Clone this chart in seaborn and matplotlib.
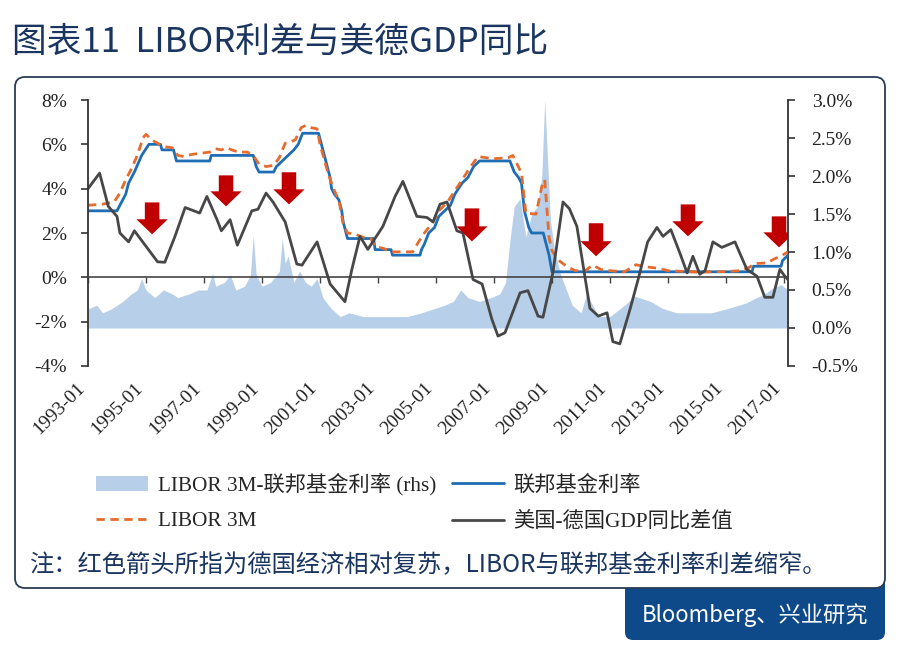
import matplotlib
matplotlib.use("Agg")
import matplotlib.pyplot as plt
import seaborn as sns
from matplotlib.patches import FancyArrow, FancyBboxPatch, Patch
from matplotlib.lines import Line2D
from matplotlib.ticker import FuncFormatter

# 联邦基金利率 (lhs, %)
ff_t = [1993.0, 1994.0, 1994.1, 1994.2, 1994.3, 1994.4, 1994.6, 1994.85, 1995.1, 1995.5, 1995.55,
        1995.95, 1996.05, 1997.2, 1997.25, 1998.7, 1998.8, 1998.9, 1999.4, 1999.5, 1999.7, 1999.9,
        2000.1, 2000.25, 2000.4, 2000.95, 2001.05, 2001.15, 2001.25, 2001.35, 2001.4, 2001.5,
        2001.65, 2001.75, 2001.8, 2001.9, 2001.95, 2002.85, 2002.9, 2003.45, 2003.5, 2004.45,
        2004.5, 2004.6, 2004.75, 2004.95, 2005.1, 2005.3, 2005.5, 2005.65, 2005.9, 2006.1, 2006.3,
        2006.5, 2007.55, 2007.7, 2007.85, 2007.95, 2008.05, 2008.2, 2008.3, 2008.7, 2008.8, 2008.9,
        2009.0, 2015.9, 2015.95, 2016.9, 2016.95, 2017.14]
ff_v = [3.0, 3.0, 3.25, 3.5, 3.75, 4.25, 4.75, 5.5, 6.0, 6.0, 5.75,
        5.75, 5.25, 5.25, 5.5, 5.5, 5.0, 4.75, 4.75, 5.0, 5.25, 5.5,
        5.75, 6.0, 6.5, 6.5, 6.0, 5.5, 5.0, 4.5, 4.0, 3.75,
        3.5, 3.0, 2.5, 2.0, 1.75, 1.75, 1.25, 1.25, 1.0, 1.0,
        1.25, 1.5, 2.0, 2.25, 2.75, 3.0, 3.25, 3.75, 4.25, 4.5, 5.0,
        5.25, 5.25, 4.75, 4.5, 4.25, 3.0, 2.25, 2.0, 2.0, 1.5, 1.0,
        0.25, 0.25, 0.5, 0.5, 0.75, 1.0]

# LIBOR 3M (lhs, %)
lib_t = [1993.0, 1993.5, 1993.9, 1994.1, 1994.3, 1994.5, 1994.7, 1994.9, 1995.0, 1995.2, 1995.4,
         1995.6, 1995.9, 1996.1, 1996.3, 1996.6, 1996.9, 1997.2, 1997.4, 1997.6, 1997.8, 1997.95,
         1998.2, 1998.5, 1998.75, 1998.9, 1999.15, 1999.4, 1999.6, 1999.8, 1999.95, 2000.15,
         2000.35, 2000.5, 2000.7, 2000.9, 2001.0, 2001.15, 2001.3, 2001.5, 2001.65, 2001.8,
         2001.95, 2002.2, 2002.5, 2002.75, 2002.9, 2003.2, 2003.45, 2003.9, 2004.2, 2004.4,
         2004.6, 2004.9, 2005.1, 2005.4, 2005.7, 2005.95, 2006.2, 2006.45, 2006.7, 2007.0,
         2007.5, 2007.65, 2007.8, 2007.95, 2008.1, 2008.45, 2008.65, 2008.75, 2008.9, 2009.0,
         2009.2, 2009.5, 2009.8, 2010.15, 2010.4, 2010.7, 2011.0, 2011.5, 2011.9, 2012.2,
         2012.6, 2013.0, 2014.0, 2015.0, 2015.5, 2015.8, 2016.0, 2016.4, 2016.7, 2016.95, 2017.14]
lib_v = [3.25, 3.3, 3.4, 3.8, 4.4, 4.9, 5.5, 6.3, 6.45, 6.2, 6.05,
         5.9, 5.85, 5.5, 5.45, 5.55, 5.6, 5.65, 5.8, 5.75, 5.85, 5.75,
         5.65, 5.65, 5.4, 5.1, 5.0, 5.05, 5.4, 6.05, 6.1, 6.2,
         6.75, 6.85, 6.75, 6.7, 6.0, 5.3, 4.6, 3.9, 3.5, 2.4,
         2.0, 1.95, 1.8, 1.75, 1.4, 1.3, 1.15, 1.15, 1.15, 1.6,
         2.0, 2.5, 3.0, 3.4, 4.0, 4.5, 5.0, 5.45, 5.4, 5.35,
         5.4, 5.5, 5.1, 4.7, 2.9, 2.85, 4.1, 4.4, 1.8, 1.2,
         0.8, 0.5, 0.3, 0.3, 0.55, 0.35, 0.3, 0.25, 0.57, 0.48,
         0.42, 0.3, 0.24, 0.26, 0.3, 0.45, 0.62, 0.65, 0.85, 1.0, 1.15]

# 美国-德国GDP同比差值 (lhs, %)
gdp_t = [1993.0, 1993.4, 1993.7, 1994.0, 1994.1, 1994.4, 1994.6, 1995.0, 1995.4, 1995.65, 1996.0,
         1996.35, 1996.85, 1997.1, 1997.45, 1997.6, 1997.9, 1998.15, 1998.65, 1998.86, 1999.14,
         1999.38, 1999.8, 2000.2, 2000.38, 2000.9, 2001.35, 2001.86, 2002.1, 2002.38, 2002.65,
         2003.17, 2003.59, 2003.86, 2004.34, 2004.69, 2004.9, 2005.14, 2005.38, 2005.72, 2005.93,
         2006.28, 2006.59, 2006.93, 2007.14, 2007.38, 2007.9, 2008.17, 2008.52, 2008.69, 2009.03,
         2009.38, 2009.6, 2009.86, 2010.31, 2010.6, 2010.9, 2011.1, 2011.34, 2011.69, 2011.97,
         2012.3, 2012.62, 2012.83, 2013.1, 2013.41, 2013.66, 2013.86, 2014.1, 2014.28, 2014.55,
         2014.86, 2015.31, 2015.72, 2016.07, 2016.34, 2016.62, 2016.86, 2017.03, 2017.14]
gdp_v = [4.0, 4.7, 3.2, 2.75, 2.0, 1.6, 2.1, 1.4, 0.7, 0.68, 1.85,
         3.15, 2.9, 3.65, 2.6, 2.1, 2.6, 1.45, 3.0, 3.07, 3.8,
         3.4, 2.5, 0.6, 0.55, 1.6, -0.3, -1.1, 0.36, 1.85, 1.26,
         2.3, 3.65, 4.33, 2.75, 2.7, 2.5, 3.3, 3.4, 2.1, 2.0,
         -0.1, -0.3, -1.9, -2.65, -2.5, -0.7, -0.6, -1.75, -1.8, 0.2,
         3.4, 3.1, 2.3, -1.4, -1.75, -1.6, -2.9, -3.0, -1.45, -0.1,
         1.6, 2.25, 1.85, 2.15, 1.1, 0.2, 0.95, 0.14, 0.3, 1.6,
         1.35, 1.6, 0.36, 0.05, -0.9, -0.9, 0.36, 0.05, -0.1]

# LIBOR 3M-联邦基金利率 (rhs, %)
sp_t = [1993.0, 1993.3, 1993.5, 1993.8, 1994.0, 1994.2, 1994.5, 1994.7, 1994.85, 1995.0, 1995.3,
        1995.6, 1995.9, 1996.1, 1996.5, 1996.8, 1997.1, 1997.3, 1997.4, 1997.7, 1997.9, 1998.1,
        1998.4, 1998.6, 1998.7, 1998.8, 1999.0, 1999.3, 1999.6, 1999.7, 1999.8, 1999.9, 2000.1,
        2000.3, 2000.5, 2000.7, 2000.9, 2001.1, 2001.4, 2001.7, 2002.0, 2002.5, 2003.0, 2003.5,
        2004.0, 2004.5, 2004.9, 2005.3, 2005.6, 2005.85, 2006.1, 2006.5, 2006.9, 2007.2, 2007.4,
        2007.55, 2007.7, 2007.9, 2008.1, 2008.3, 2008.5, 2008.65, 2008.75, 2008.85, 2008.95,
        2009.1, 2009.3, 2009.5, 2009.7, 2010.0, 2010.2, 2010.4, 2010.6, 2011.0, 2011.5, 2011.85,
        2012.0, 2012.4, 2012.8, 2013.3, 2014.0, 2014.5, 2015.0, 2015.7, 2016.0, 2016.3, 2016.6,
        2016.9, 2017.14]
sp_v = [0.25, 0.3, 0.2, 0.25, 0.3, 0.35, 0.45, 0.5, 0.65, 0.5, 0.4,
        0.5, 0.45, 0.4, 0.45, 0.5, 0.5, 0.72, 0.55, 0.6, 0.7, 0.5,
        0.55, 0.7, 1.22, 0.7, 0.55, 0.6, 0.75, 1.18, 0.85, 0.95, 0.6,
        0.75, 0.6, 0.55, 0.65, 0.4, 0.25, 0.15, 0.2, 0.15, 0.15, 0.15,
        0.15, 0.2, 0.25, 0.3, 0.35, 0.5, 0.4, 0.35, 0.4, 0.45, 0.6,
        1.15, 1.6, 1.7, 1.2, 1.5, 1.6, 2.0, 3.0, 2.2, 1.4,
        1.0, 0.7, 0.5, 0.3, 0.2, 0.45, 0.3, 0.15, 0.15, 0.3, 0.42,
        0.4, 0.35, 0.26, 0.2, 0.2, 0.2, 0.25, 0.33, 0.39, 0.44, 0.52,
        0.57, 0.5]

# 红色箭头: x, 顶部, 箭尖 (lhs %)
arrow_x = [1995.21, 1997.76, 1999.93, 2006.24, 2010.52, 2013.69, 2016.83]
arrow_top = [3.38, 4.6, 4.74, 3.11, 2.44, 3.29, 2.75]
arrow_tip = [1.94, 3.2, 3.29, 1.62, 0.95, 1.85, 1.35]

year_ticks = list(range(1993, 2018, 2))
year_labels = [f"{y}-01" for y in year_ticks]

sns.set_theme(style="white")
plt.rcParams["font.family"] = ["Liberation Serif", "Noto Sans CJK SC"]
plt.rcParams["axes.unicode_minus"] = False

navy = "#1A3560"
fig = plt.figure(figsize=(9, 6.6), dpi=100)

# 外框与来源标签 (英寸坐标)
tab = FancyBboxPatch((6.25, 0.2), 2.6, 0.75, boxstyle="round,pad=0,rounding_size=0.08",
                     transform=fig.dpi_scale_trans, facecolor="#0E4A8A", edgecolor="none", zorder=-3)
fig.patches.append(tab)
frame = FancyBboxPatch((0.15, 0.72), 8.7, 5.11, boxstyle="round,pad=0,rounding_size=0.1",
                       transform=fig.dpi_scale_trans, facecolor="white", edgecolor="#2A3D55",
                       linewidth=1.3, zorder=-2)
fig.patches.append(frame)
fig.text(7.55 / 9, 0.45 / 6.6, "Bloomberg、兴业研究", color="white", fontsize=16,
         family=["Noto Sans CJK SC"], ha="center", va="center")

fig.text(12 / 900, 1 - 42 / 660, "图表11  LIBOR利差与美德GDP同比", color=navy, fontsize=25,
         family=["Noto Sans CJK SC"], fontweight="medium", ha="left", va="center")
fig.text(30 / 900, 1 - 565 / 660, "注：红色箭头所指为德国经济相对复苏，LIBOR与联邦基金利率利差缩窄。",
         color=navy, fontsize=17.5, family=["Noto Sans CJK SC"], ha="left", va="center")

ax = fig.add_axes([88 / 900, 1 - 366 / 660, 700 / 900, 266 / 660])
ax2 = ax.twinx()
ax.set_zorder(ax2.get_zorder() + 1)
ax.patch.set_visible(False)
ax2.patch.set_visible(False)

ax2.fill_between(sp_t, 0, sp_v, color="#B7CFE8", linewidth=0)
sns.lineplot(x=ff_t, y=ff_v, ax=ax, color="#1E6DB5", linewidth=2.0, sort=False)
sns.lineplot(x=lib_t, y=lib_v, ax=ax, color="#E46C2E", linewidth=2.0, linestyle=(0, (3, 2)), sort=False)
sns.lineplot(x=gdp_t, y=gdp_v, ax=ax, color="#474747", linewidth=2.0, sort=False)

for x, top, tip in zip(arrow_x, arrow_top, arrow_tip):
    ax.add_patch(FancyArrow(x, top, 0, tip - top, width=0.5, head_width=1.08, head_length=0.68,
                            length_includes_head=True, color="#C00000", linewidth=0, zorder=5))

ax.set_xlim(1993.0, 2017.14)
ax.set_ylim(-4, 8)
ax2.set_ylim(-0.5, 3.0)
ax.set_yticks(range(-4, 9, 2))
ax2.set_yticks([-0.5, 0, 0.5, 1.0, 1.5, 2.0, 2.5, 3.0])
ax.yaxis.set_major_formatter(FuncFormatter(lambda v, p: f"{v:.0f}%"))
ax2.yaxis.set_major_formatter(FuncFormatter(lambda v, p: f"{v:.1f}%"))

for s in ["top", "right"]:
    ax.spines[s].set_visible(False)
for s in ["top", "left", "bottom"]:
    ax2.spines[s].set_visible(False)
ax.spines["left"].set_color("#333333")
ax2.spines["right"].set_color("#333333")
ax.spines["left"].set_linewidth(1.3)
ax2.spines["right"].set_linewidth(1.3)
ax.spines["bottom"].set_position(("data", 0))
ax.spines["bottom"].set_color("#444444")
ax.spines["bottom"].set_linewidth(1.2)

ax.set_xticks(year_ticks)
ax.tick_params(axis="x", direction="out", length=4, width=1, color="#444444", labelbottom=False, bottom=True)
ax.tick_params(axis="y", direction="out", length=5, width=1.2, color="#333333", pad=10,
               labelsize=14, labelcolor="#222222", left=True)
ax2.tick_params(axis="y", direction="out", length=5, width=1.2, color="#333333", pad=12,
                labelsize=14, labelcolor="#222222", right=True)
ax.set_xlabel("")
ax.set_ylabel("")

sec = ax.secondary_xaxis("bottom")
sec.spines["bottom"].set_visible(False)
sec.set_xticks(year_ticks)
sec.set_xticklabels(year_labels, rotation=45, ha="right", fontsize=14, color="#222222")
sec.tick_params(axis="x", length=0, pad=10)

handles = [Patch(facecolor="#B7CFE8", edgecolor="none"),
           Line2D([], [], color="#E46C2E", linewidth=2.0, linestyle=(0, (3, 2))),
           Line2D([], [], color="#1E6DB5", linewidth=2.0),
           Line2D([], [], color="#474747", linewidth=2.0)]
labels = ["LIBOR 3M-联邦基金利率 (rhs)", "LIBOR 3M", "联邦基金利率", "美国-德国GDP同比差值"]
fig.legend(handles, labels, ncol=2, loc="upper left", bbox_to_anchor=(96 / 900, 1 - 473 / 660),
           frameon=False, fontsize=15.3, handlelength=2.45, handletextpad=0.45, columnspacing=0.75,
           labelspacing=0.75, borderaxespad=0, borderpad=0)

fig.savefig("out.png", dpi=100)
